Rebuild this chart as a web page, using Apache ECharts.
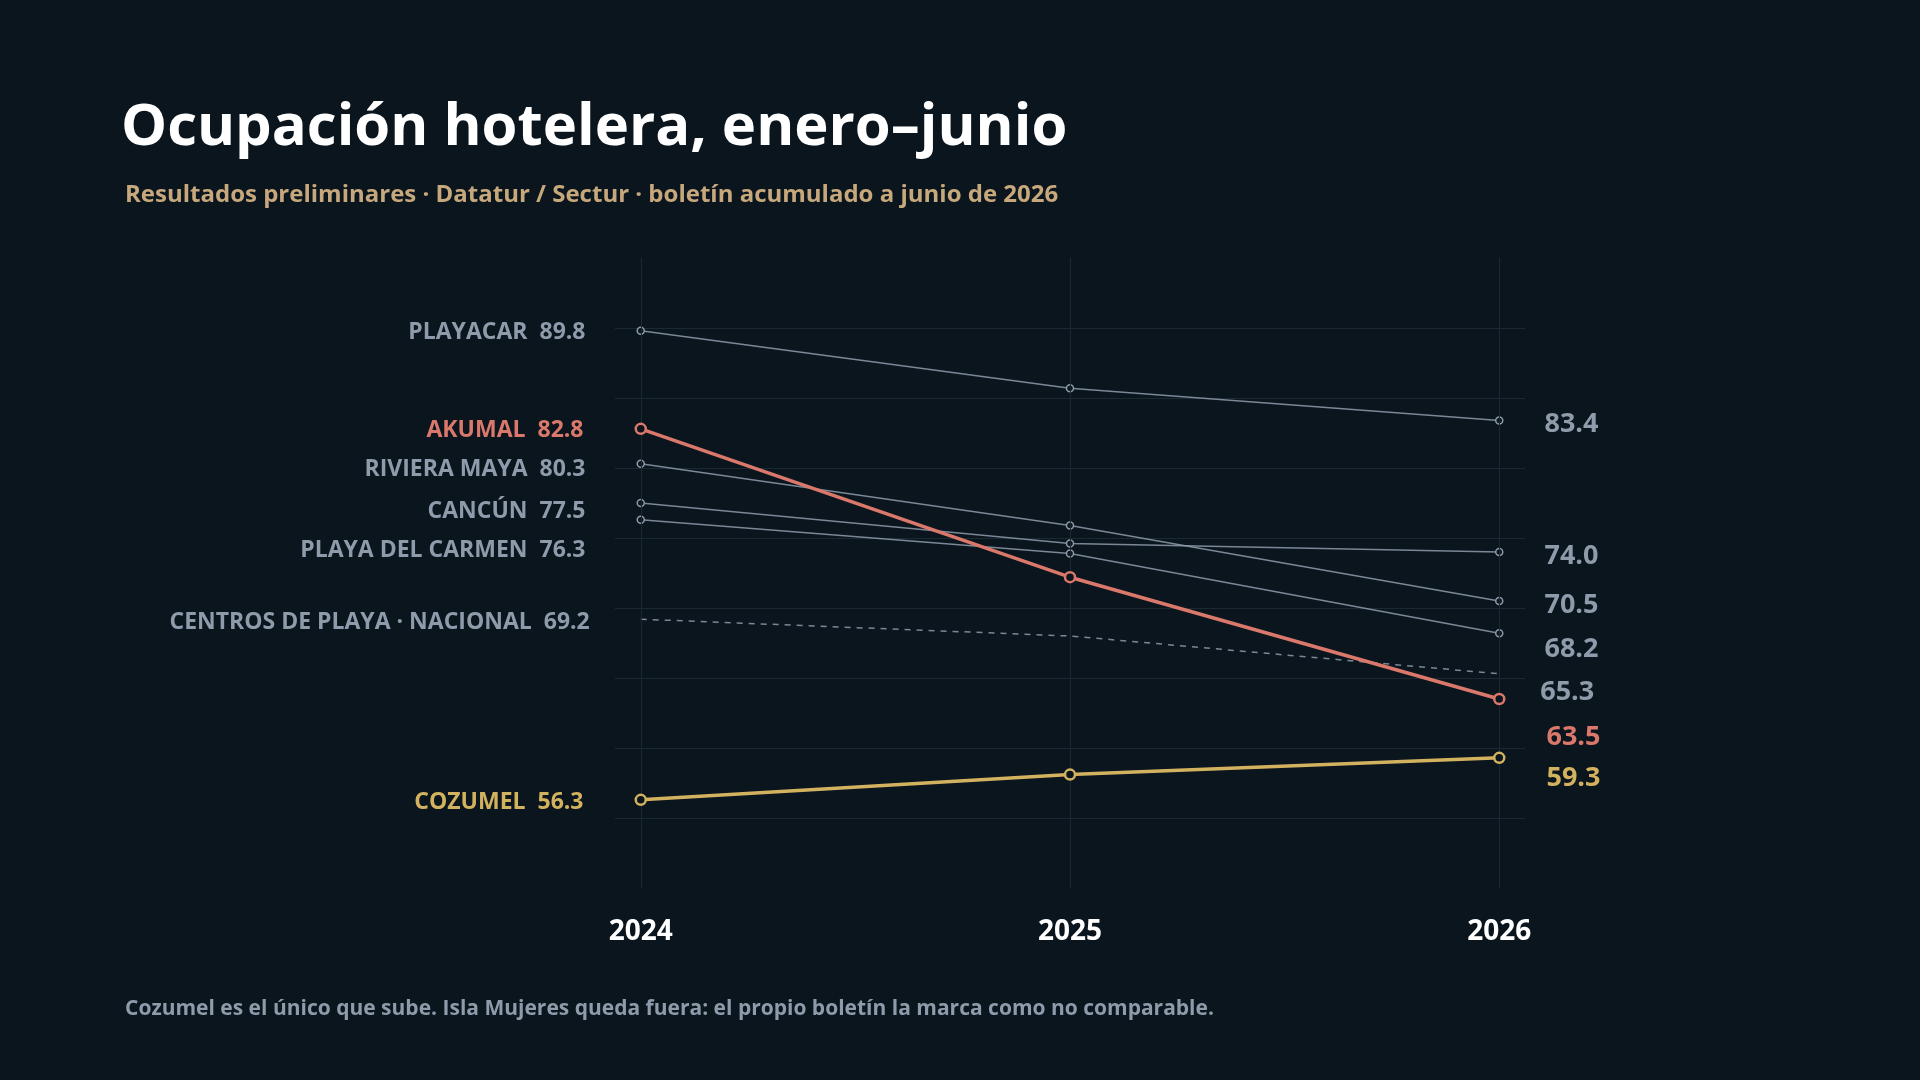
<!DOCTYPE html>
<html><head><meta charset="utf-8">
<script src="https://cdn.jsdelivr.net/npm/echarts@6/dist/echarts.min.js"></script>
<style>html,body{margin:0;background:#0b151d;}#c{width:1920px;height:1080px;}</style>
</head><body><div id="c"></div>
<script>
const years = [2024, 2025, 2026];
const names = ['PLAYACAR','AKUMAL','RIVIERA MAYA','CANCÚN','PLAYA DEL CARMEN','CENTROS DE PLAYA · NACIONAL','COZUMEL'];
const playacar = [89.8, 85.7, 83.4];
const akumal = [82.8, 72.2, 63.5];
const riviera = [80.3, 75.9, 70.5];
const cancun = [77.5, 74.6, 74.0];
const playaCarmen = [76.3, 73.9, 68.2];
const nacional = [69.2, 68.0, 65.3];
const cozumel = [56.3, 58.1, 59.3];
const values = [playacar, akumal, riviera, cancun, playaCarmen, nacional, cozumel];
const colors = ['#8f9bab','#d9786b','#8f9bab','#8f9bab','#8f9bab','#8f9bab','#d2b25e'];
const leftOff = [2,2,6,8,31,3,3];
const rightOff = [4,38,4,4,16,19,21];
const GRID = '#1c2832';
const font = 'Open Sans';
const series = values.map((vals, i) => {
  const hi = i === 1 || i === 6;
  const dashed = i === 5;
  return {
    type: 'line', name: names[i],
    data: vals.map((v, j) => {
      const d = { value: [years[j], v] };
      if (j === 0) d.label = { show: true, position: 'left', distance: 51, offset: [0, leftOff[i]],
        formatter: names[i] + '  ' + v.toFixed(1), fontSize: 23 };
      if (j === vals.length - 1) d.label = { show: true, position: 'right', distance: 41, offset: [0, rightOff[i]],
        formatter: v.toFixed(1), fontSize: 27 };
      return d;
    }),
    z: hi ? 5 : 3,
    symbol: 'circle',
    showSymbol: true,
    symbolSize: dashed ? 0 : (hi ? 10 : 7),
    itemStyle: { color: '#0b151d', borderColor: colors[i], borderWidth: dashed ? 0 : (hi ? 2.5 : 1.5) },
    lineStyle: { color: colors[i], width: hi ? 3.5 : 1.5, type: dashed ? [6, 6] : 'solid', opacity: hi ? 1 : 0.85 },
    label: { color: colors[i], fontFamily: font, fontWeight: 'bold' },
    emphasis: { disabled: true },
    markLine: i === 0 ? { silent: true, symbol: 'none', label: { show: false },
      lineStyle: { color: GRID, type: 'solid', width: 1 },
      data: years.map(y => ({ xAxis: y })) } : undefined
  };
});
const chart = echarts.init(document.getElementById('c'));
chart.setOption({
  backgroundColor: '#0b151d',
  animation: false,
  title: [
    { text: 'Ocupación hotelera, enero–junio', left: 116, top: 94,
      textStyle: { color: '#ffffff', fontFamily: font, fontWeight: 'bold', fontSize: 58 } },
    { text: 'Resultados preliminares · Datatur / Sectur · boletín acumulado a junio de 2026', left: 120, top: 178,
      textStyle: { color: '#c6a87c', fontFamily: font, fontWeight: 'bold', fontSize: 24 } },
    { text: 'Cozumel es el único que sube. Isla Mujeres queda fuera: el propio boletín la marca como no comparable.', left: 120, top: 994,
      textStyle: { color: '#8f9bab', fontFamily: font, fontWeight: 'bold', fontSize: 21 } }
  ],
  grid: { left: 615, right: 395, top: 258, bottom: 192 },
  xAxis: { type: 'value', min: 2023.94, max: 2026.06,
    axisLine: { show: false }, axisTick: { show: false }, splitLine: { show: false },
    axisLabel: { customValues: years, color: '#ffffff', fontFamily: font, fontWeight: 'bold', fontSize: 28, margin: 30,
      formatter: v => String(Math.round(v)) } },
  yAxis: { type: 'value', min: 50, max: 95, interval: 5,
    axisLine: { show: false }, axisTick: { show: false }, axisLabel: { show: false },
    splitLine: { lineStyle: { color: ['transparent', GRID, GRID, GRID, GRID, GRID, GRID, GRID, GRID, 'transparent'] } } },
  series
});
</script></body></html>
